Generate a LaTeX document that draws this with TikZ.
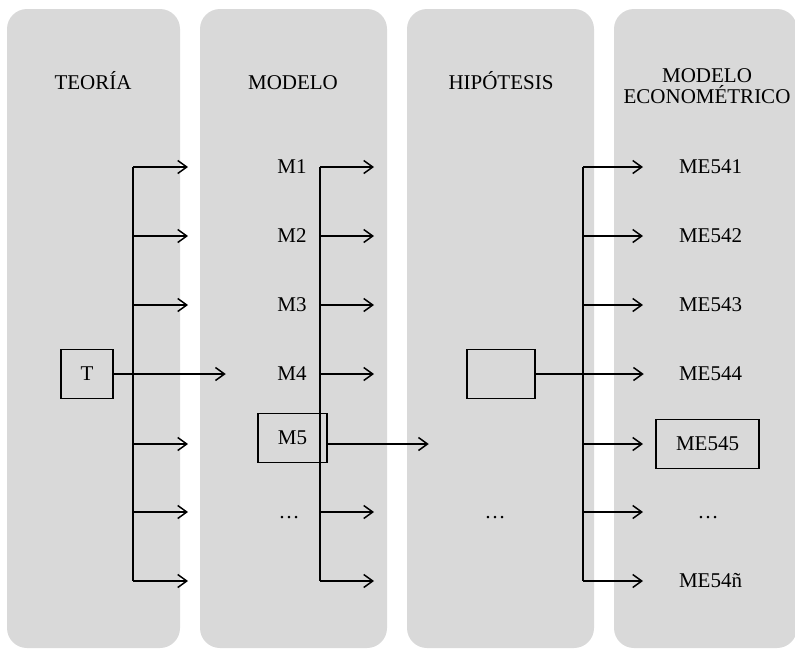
\documentclass[tikz,border=0pt]{standalone}
\usepackage{fontspec}
\setmainfont{Liberation Serif}
\usetikzlibrary{positioning,arrows.meta}
\definecolor{colgray}{HTML}{D9D9D9}

\begin{document}
\begin{tikzpicture}[%
    x=1pt,
    y=-1pt,
    line width=1.5pt,
    >={Straight Barb[length=9pt,width=13pt]},
    font=\fontsize{21}{21}\selectfont,
    column/.style={%
      rectangle,
      rounded corners=20pt,
      fill=colgray,
      draw=none,
      inner sep=0pt,
      minimum height=639pt
    },
    title/.style={inner sep=0pt, text height=13.9pt, text depth=0pt},
    item/.style={inner sep=0pt, text height=13.9pt, text depth=0pt},
    framed/.style={draw, inner sep=0pt, minimum height=49pt}
  ]
    \useasboundingbox (0,0) rectangle (795,649);

    % columnas
    \node[column, minimum width=173pt] (teoria)       at (93.5,328.5)  {};
    \node[column, minimum width=187pt] (modelo)       at (293.5,328.5) {};
    \node[column, minimum width=187pt] (hipotesis)    at (500.5,328.5) {};
    \node[column, minimum width=183pt] (econometrico) at (705.5,328.5) {};

    \node[title] (tTeoria)    at (93,83)  {TEORÍA};
    \node[title] (tModelo)    at (293,83) {MODELO};
    \node[title] (tHipotesis) at (501,83) {HIPÓTESIS};
    \node[inner sep=0pt, align=center, anchor=north] (tEcon) at (707,68) {MODELO\\ECONOMÉTRICO};

    % etiquetas
    \node[framed, minimum width=52pt] (T) at (87,374) {T};

    \node[item] (m1) at (292,167) {M1};
    \node[item] (m2) at (292,236) {M2};
    \node[item] (m3) at (292,305) {M3};
    \node[item] (m4) at (292,374) {M4};
    \node[framed, minimum width=69pt] (m5) at (292.5,438) {M5};
    \node[item] (mdots) at (289,512) {\dots};

    \node[framed, minimum width=68pt] (h) at (501,374) {};
    \node[item] (hdots) at (495,512) {\dots};

    \node[item] (me1) at (710.5,167) {ME541};
    \node[item] (me2) at (710.5,236) {ME542};
    \node[item] (me3) at (710.5,305) {ME543};
    \node[item] (me4) at (710.5,374) {ME544};
    \node[framed, minimum width=103pt] (me5) at (707.5,444) {ME545};
    \node[item] (medots) at (708,512) {\dots};
    \node[item] (me7) at (710.5,581) {ME54ñ};

    % ramas
    \foreach \r [count=\i] in {167,236,305,374,444,512,581} {
      \coordinate (tb\i) at (133,\r);
      \coordinate (mb\i) at (320,\r);
      \coordinate (hb\i) at (583,\r);
    }
    \draw (tb1) -- (tb7);
    \draw (mb1) -- (mb7);
    \draw (hb1) -- (hb7);

    \foreach \i in {1,2,3,5,6,7} \draw[->] (tb\i) -- ++(55,0);
    \foreach \i in {1,2,3,4,6,7} \draw[->] (mb\i) -- ++(54,0);
    \foreach \i in {1,2,3,5,6,7} \draw[->] (hb\i) -- ++(60,0);

    \draw[->] (T.east) -- ++(112,0);
    \draw[->] ([yshift=-6pt]m5.east) -- ++(101,0);
    \draw[->] (h.east) -- ++(108,0);
  \end{tikzpicture}
\end{document}
